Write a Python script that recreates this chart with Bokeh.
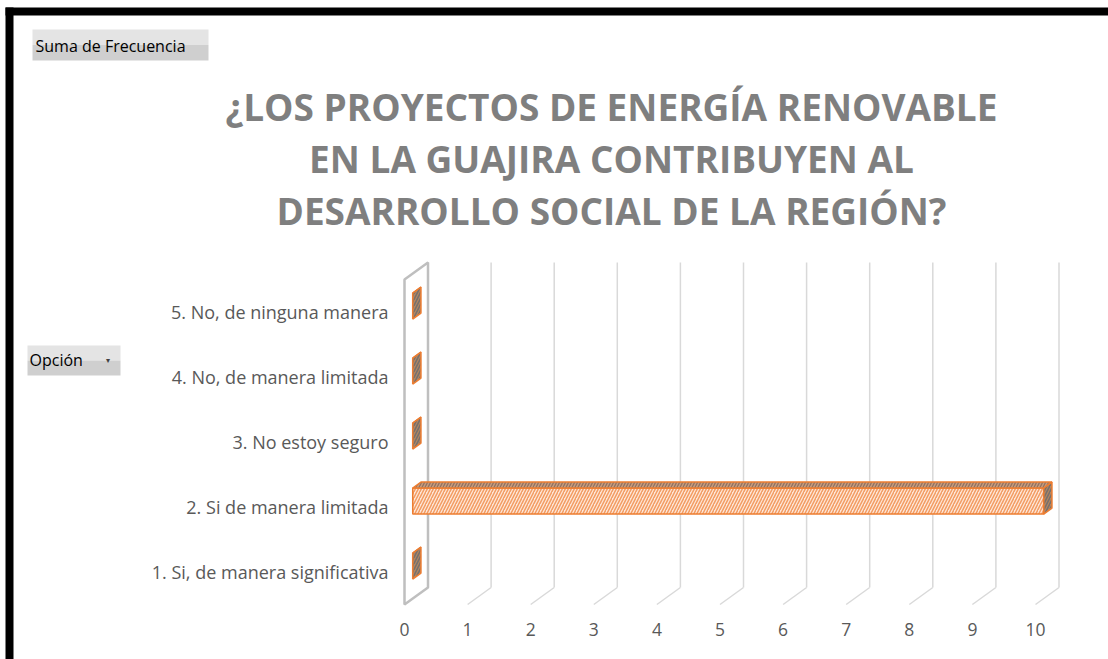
from bokeh.plotting import figure
from bokeh.models import Range1d, FixedTicker, ColumnDataSource, Label, BoxAnnotation
from bokeh.embed import file_html
from bokeh.resources import INLINE

# ---------------- data ----------------
categories = [
    "1. Si, de manera significativa",
    "2. Si de manera limitada",
    "3. No estoy seguro",
    "4. No, de manera limitada",
    "5. No, de ninguna manera",
]
values = [0, 10, 0, 0, 0]
x_ticks = [0, 1, 2, 3, 4, 5, 6, 7, 8, 9, 10]
title_lines = [
    "¿LOS PROYECTOS DE ENERGÍA RENOVABLE",
    "EN LA GUAJIRA CONTRIBUYEN AL",
    "DESARROLLO SOCIAL DE LA REGIÓN?",
]
field_button = "Suma de Frecuencia"
row_button = "Opción"

# ---------------- geometry helpers (canvas px -> data) ----------------
W, HGT = 1108, 659
PX_X = 63.1
PX_Y = 65.0
def X(px):
    return (px - 404) / PX_X
def Y(py):
    return 0.5 + (604 - py) / PX_Y

DX = 23.5 / PX_X      # full depth offset (x, data units)
DY = 17.0 / PX_Y      # full depth offset (y, data units)
F1, F2 = 0.35, 0.70   # bar front/back depth fractions
H = 0.2               # half bar thickness (category units)

n = len(categories)
ys = list(range(1, n + 1))
floor = ys[0] - 0.5
ceil_ = ys[-1] + 0.5

p = figure(width=W, height=HGT,
           x_range=Range1d(X(0), X(W)), y_range=Range1d(Y(HGT), Y(0)),
           output_backend="svg", toolbar_location=None,
           min_border=0, min_border_left=0, min_border_right=0,
           min_border_top=0, min_border_bottom=0)
p.outline_line_color = None
p.grid.visible = False
p.background_fill_color = "white"
p.border_fill_color = "white"

# axes (drawn at fixed positions inside the frame)
p.xaxis.ticker = FixedTicker(ticks=x_ticks)
p.yaxis.ticker = FixedTicker(ticks=ys)
p.yaxis.major_label_overrides = {y: c for y, c in zip(ys, categories)}
p.xaxis.fixed_location = Y(612)
p.yaxis.fixed_location = X(396)
for ax in (p.xaxis[0], p.yaxis[0]):
    ax.axis_line_color = None
    ax.major_tick_line_color = None
    ax.minor_tick_line_color = None
    ax.major_tick_in = 0
    ax.major_tick_out = 0
    ax.minor_tick_in = 0
    ax.minor_tick_out = 0
    ax.major_label_text_font = "Open Sans"
    ax.major_label_text_color = "#595959"
p.xaxis.major_label_text_font_size = "17.5px"
p.yaxis.major_label_text_font_size = "18px"
p.xaxis.major_label_standoff = 10
p.yaxis.major_label_standoff = 8

# back wall at x = 0
x0 = x_ticks[0]
p.patch([x0, x0, x0 + DX, x0 + DX], [floor, ceil_, ceil_ + DY, floor + DY],
        fill_color="white", line_color="#BFBFBF", line_width=2.5)

# gridlines (back vertical + floor diagonal)
gx = x_ticks[1:]
p.segment(x0=[t + DX for t in gx], y0=[floor + DY] * len(gx),
          x1=[t + DX for t in gx], y1=[ceil_ + DY] * len(gx),
          line_color="#D9D9D9", line_width=1.5)
p.segment(x0=gx, y0=[floor] * len(gx),
          x1=[t + DX for t in gx], y1=[floor + DY] * len(gx),
          line_color="#D9D9D9", line_width=1.5)

# bars
front = ColumnDataSource(dict(
    left=[F1 * DX] * n, right=[v + F1 * DX for v in values],
    bottom=[y - H + F1 * DY for y in ys], top=[y + H + F1 * DY for y in ys]))
p.quad(left="left", right="right", bottom="bottom", top="top", source=front,
       fill_color="#FDE6D8", hatch_pattern="/", hatch_color="#F39C62",
       hatch_scale=6, hatch_weight=1.5, line_color="#ED7D31", line_width=1.5)

top_xs, top_ys, side_xs, side_ys = [], [], [], []
for v, y in zip(values, ys):
    a1, a2 = F1 * DX, F2 * DX
    b1, b2 = F1 * DY, F2 * DY
    top_xs.append([a1, v + a1, v + a2, a2])
    top_ys.append([y + H + b1, y + H + b1, y + H + b2, y + H + b2])
    side_xs.append([v + a1, v + a1, v + a2, v + a2])
    side_ys.append([y - H + b1, y + H + b1, y + H + b2, y - H + b2])
p.patches(top_xs, top_ys, fill_color="#C99C7C", hatch_pattern="/", hatch_color="#8F7262",
          hatch_scale=6, hatch_weight=1.3, line_color="#ED7D31", line_width=1.5)
p.patches(side_xs, side_ys, fill_color="#B3855F", hatch_pattern="/", hatch_color="#76706C",
          hatch_scale=6, hatch_weight=1.6, line_color="#ED7D31", line_width=1.5)

# title (canvas units)
for ty, line in zip([106, 158, 210], title_lines):
    p.add_layout(Label(x=611, y=ty, x_units="canvas", y_units="canvas", text=line,
                       text_align="center", text_baseline="middle", text_font="Open Sans",
                       text_font_style="bold", text_font_size="37px",
                       text_color="#7F7F7F"))

# pivot field buttons
def cbox(l, r, t, b, color):
    return BoxAnnotation(left=l, right=r, top=t, bottom=b,
                         left_units="canvas", right_units="canvas",
                         top_units="canvas", bottom_units="canvas",
                         fill_color=color, fill_alpha=1, line_color=None)
for l, r, t, b in [(32, 208, 29, 60), (27, 120, 345, 375)]:
    m = (t + b) / 2
    p.add_layout(cbox(l, r, t, m, "#E4E4E4"))
    p.add_layout(cbox(l, r, m, b, "#CFCFCF"))
p.add_layout(Label(x=35, y=45, x_units="canvas", y_units="canvas", text=field_button,
                   text_baseline="middle", text_font="Open Sans", text_font_size="16px",
                   text_color="black"))
p.add_layout(Label(x=29, y=359, x_units="canvas", y_units="canvas", text=row_button,
                   text_baseline="middle", text_font="Open Sans", text_font_size="16px",
                   text_color="black"))
p.add_layout(Label(x=107, y=359, x_units="canvas", y_units="canvas", text="▾",
                   text_baseline="middle", text_align="center",
                   text_font="Open Sans", text_font_size="8px", text_color="#404040"))

# black frame bands (top and left)
p.add_layout(cbox(5, W, 7, 15, "black"))
p.add_layout(cbox(5, 13, 7, HGT, "black"))

open("out.html", "w").write(file_html(p, INLINE))
